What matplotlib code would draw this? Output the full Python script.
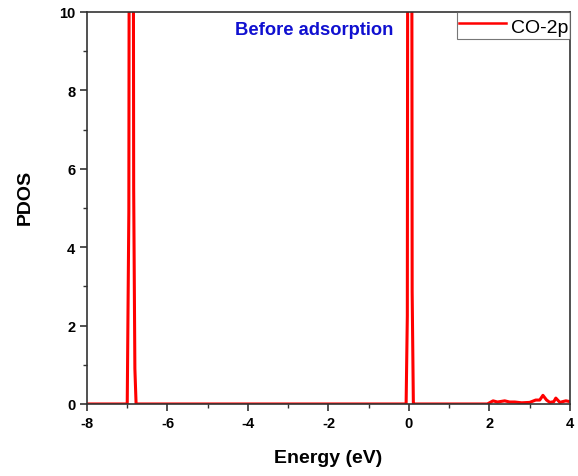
import matplotlib
matplotlib.use("Agg")
import matplotlib.pyplot as plt
from matplotlib.ticker import MultipleLocator

plt.rcParams['font.family'] = ['Liberation Sans', 'DejaVu Sans']
plt.rcParams['axes.unicode_minus'] = False

# CO-2p projected DOS, sampled on the points where it departs from zero
energy = [-8.0, -7.0, -6.96, -6.93, -6.90, -6.87, -6.84, -6.81, -6.78,
          -0.07, -0.04, -0.01, 0.02, 0.05, 0.08, 0.11, 0.14,
          1.95, 2.09, 2.2, 2.38, 2.5, 2.63, 2.8, 3.0, 3.15, 3.25, 3.33,
          3.42, 3.5, 3.6, 3.65, 3.75, 3.82, 3.9, 4.0]
pdos = [0.0, 0.0, 4.9, 30.0, 40.0, 30.0, 5.5, 0.9, 0.0,
        0.0, 2.25, 35.0, 45.0, 35.0, 2.86, 0.0, 0.0,
        0.0, 0.08, 0.05, 0.08, 0.05, 0.05, 0.03, 0.04, 0.1, 0.1, 0.22,
        0.1, 0.04, 0.06, 0.15, 0.04, 0.06, 0.08, 0.06]

fig = plt.figure(figsize=(5.78, 4.77), dpi=100)
ax = fig.add_axes([0.1505, 0.151, 0.8355, 0.822])
ax.plot(energy, pdos, color='#ff0000', lw=2.2, label='CO-2p')

ax.set_xlim(-8, 4)
ax.set_ylim(0, 10)
ax.xaxis.set_major_locator(MultipleLocator(2))
ax.xaxis.set_minor_locator(MultipleLocator(1))
ax.yaxis.set_major_locator(MultipleLocator(2))
ax.yaxis.set_minor_locator(MultipleLocator(1))
ax.tick_params(which='major', direction='out', length=5, width=1.2,
               labelsize=10.5, color='#333333')
ax.tick_params(which='minor', direction='out', length=3, width=1.0,
               color='#333333')
for lbl in ax.get_xticklabels() + ax.get_yticklabels():
    lbl.set_fontweight('bold')
for sp in ax.spines.values():
    sp.set_linewidth(1.2)
    sp.set_color('#333333')

ax.set_xlabel('Energy (eV)', fontsize=14, fontweight='bold', labelpad=14)
ax.set_ylabel('PDOS', fontsize=14, fontweight='bold')
ax.yaxis.set_label_coords(-0.11, 0.53)

ax.text(0.47, 0.955, 'Before adsorption', transform=ax.transAxes,
        ha='center', va='center', color='#1010d0', fontsize=13.2,
        fontweight='bold')

leg = ax.legend(loc='upper right', fontsize=14, frameon=True, fancybox=False,
                borderaxespad=0, handlelength=2.4, handletextpad=0.25,
                handleheight=1.5, borderpad=0.1)
leg.get_frame().set_edgecolor('#555555')
leg.get_frame().set_linewidth(0.8)
leg.get_lines()[0].set_linewidth(1.8)

fig.savefig('out.png', dpi=100)
